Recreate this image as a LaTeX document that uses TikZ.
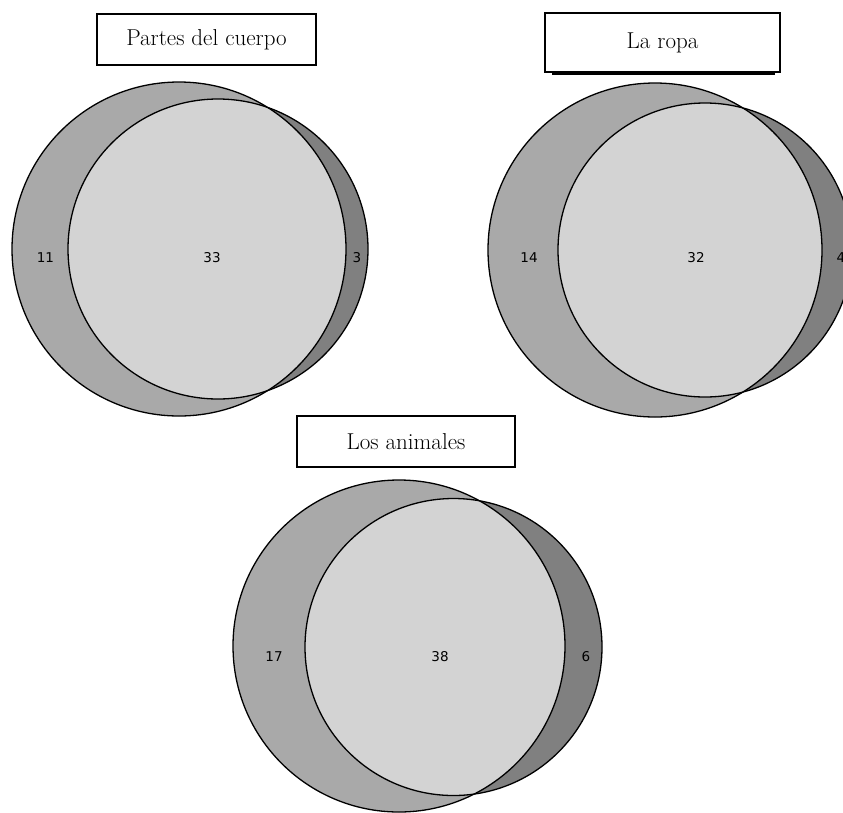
\documentclass[tikz,border=0pt]{standalone}
\usepackage{fontspec}
\newfontfamily\numfont{DejaVu Sans}
\definecolor{onlyleft}{RGB}{169,169,169}
\definecolor{onlyright}{RGB}{128,128,128}
\definecolor{both}{RGB}{211,211,211}
\begin{document}
\begin{tikzpicture}[x=1pt, y=-1pt,
  title/.style={draw, rectangle, line width=1.1pt, inner sep=0pt, font=\fontsize{23}{26}\selectfont},
  count/.style={font=\numfont\fontsize{13.5}{15}\selectfont},
  ring/.style={draw=black, line width=1.3pt}]
\useasboundingbox (0,0) rectangle (843,812);

% Partes del cuerpo
\node[title, minimum width=219pt, minimum height=51pt] (cuerpo) at (206.5,39.5) {Partes del cuerpo};
\coordinate (cuerpoA) at (179,249);
\coordinate (cuerpoB) at (218,249);
\fill[onlyleft] (cuerpoA) circle[radius=167pt];
\fill[onlyright] (cuerpoB) circle[radius=150pt];
\begin{scope}
  \clip (cuerpoA) circle[radius=167pt];
  \fill[both] (cuerpoB) circle[radius=150pt];
\end{scope}
\draw[ring] (cuerpoA) circle[radius=167pt];
\draw[ring] (cuerpoB) circle[radius=150pt];
\node[count] (cuerpoL) at (45.5,258) {11};
\node[count] (cuerpoM) at (212,258) {33};
\node[count] (cuerpoR) at (357,258) {3};

% La ropa
\node[title, minimum width=235pt, minimum height=59pt] (ropa) at (662.5,42.5) {La ropa};
\draw[line width=1.6pt] ([xshift=8pt,yshift=-1.4pt]ropa.south west) -- ([xshift=-6pt,yshift=-1.4pt]ropa.south east);
\coordinate (ropaA) at (655,250);
\coordinate (ropaB) at (705,250);
\fill[onlyleft] (ropaA) circle[radius=167pt];
\fill[onlyright] (ropaB) circle[radius=147pt];
\begin{scope}
  \clip (ropaA) circle[radius=167pt];
  \fill[both] (ropaB) circle[radius=147pt];
\end{scope}
\draw[ring] (ropaA) circle[radius=167pt];
\draw[ring] (ropaB) circle[radius=147pt];
\node[count] (ropaL) at (529,258) {14};
\node[count] (ropaM) at (696,258) {32};
\node[count] (ropaR) at (841,258) {4};

% Los animales
\node[title, minimum width=218pt, minimum height=51pt] (animales) at (406,441.5) {Los animales};
\coordinate (animalesA) at (399,646);
\coordinate (animalesB) at (453.5,647);
\fill[onlyleft] (animalesA) circle[radius=166pt];
\fill[onlyright] (animalesB) circle[radius=148.5pt];
\begin{scope}
  \clip (animalesA) circle[radius=166pt];
  \fill[both] (animalesB) circle[radius=148.5pt];
\end{scope}
\draw[ring] (animalesA) circle[radius=166pt];
\draw[ring] (animalesB) circle[radius=148.5pt];
\node[count] (animalesL) at (274,657) {17};
\node[count] (animalesM) at (440,657) {38};
\node[count] (animalesR) at (586,657) {6};
\end{tikzpicture}
\end{document}
